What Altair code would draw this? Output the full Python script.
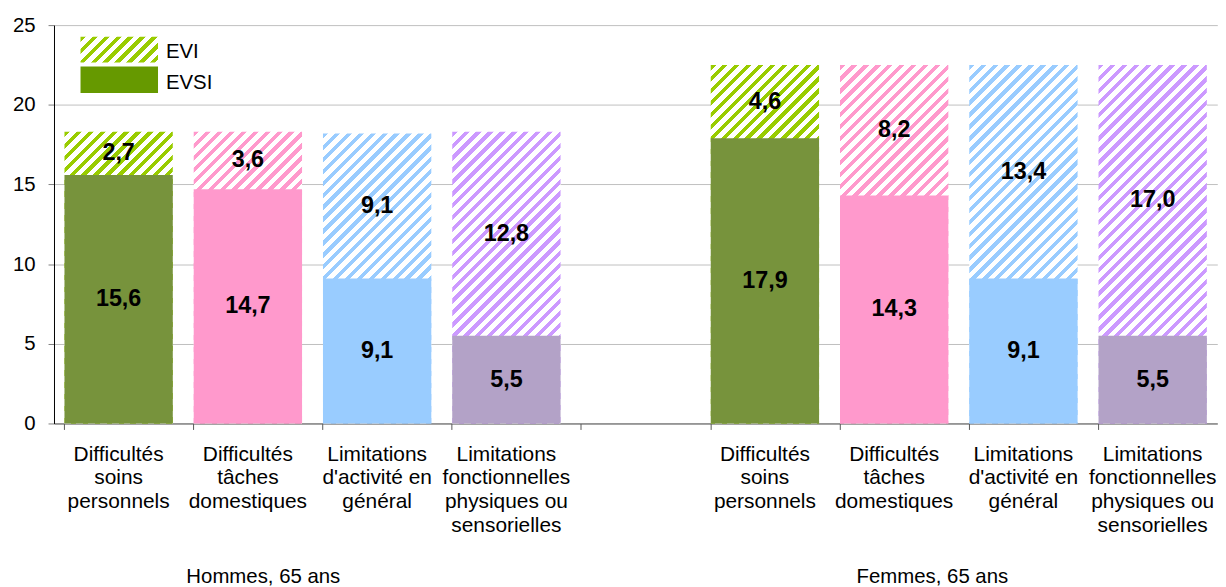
import math
import altair as alt
import pandas as pd

# ---------------- data ----------------
groups = ["Hommes, 65 ans", "Femmes, 65 ans"]
categories = [
    "Difficultés\nsoins\npersonnels",
    "Difficultés\ntâches\ndomestiques",
    "Limitations\nd'activité en\ngénéral",
    "Limitations\nfonctionnelles\nphysiques ou\nsensorielles",
]
evsi_hommes = [15.6, 14.7, 9.1, 5.5]
evi_hommes = [2.7, 3.6, 9.1, 12.8]
evsi_femmes = [17.9, 14.3, 9.1, 5.5]
evi_femmes = [4.6, 8.2, 13.4, 17.0]
legend_labels = ["EVI", "EVSI"]
y_ticks = [0, 5, 10, 15, 20, 25]

# ---------------- styles ----------------
solid_colors = ["#77933C", "#FF99CC", "#99CCFF", "#B3A2C7"]
hatch_colors = ["#99CC00", "#FF99CC", "#99CCFF", "#CC99FF"]
legend_colors = ["#99CC00", "#669900"]
FONT = "Liberation Sans"

W, H = 1171, 401
Y_MAX = 25
PAD_INNER = 0.162
GAP = "gap"

rows = []
slot_order = []
for gi, (g, evsi, evi) in enumerate(
    [(groups[0], evsi_hommes, evi_hommes), (groups[1], evsi_femmes, evi_femmes)]
):
    if gi == 1:
        slot_order.append(GAP)
    for ci, cat in enumerate(categories):
        slot = f"{gi}-{ci}"
        slot_order.append(slot)
        rows.append(
            dict(
                slot=slot,
                group=g,
                category=cat,
                ci=ci,
                evsi=evsi[ci],
                evi=evi[ci],
                total=round(evsi[ci] + evi[ci], 1),
                evsi_lbl=f"{evsi[ci]:.1f}".replace(".", ","),
                evi_lbl=f"{evi[ci]:.1f}".replace(".", ","),
            )
        )
df = pd.DataFrame(rows)
legend_df = pd.DataFrame({"label": legend_labels})

n_slots = len(slot_order)
step = W / n_slots
bar_w = step * (1 - PAD_INNER)


def hatch(color, w, h, period=12.0, duty=0.5):
    n = max(1, math.ceil((w + h) / period))
    span = n * period
    k = span / (w * w + h * h)
    stops = []
    for i in range(n):
        a = i / n
        b = (i + duty) / n
        c = (i + 1) / n
        stops += [
            {"offset": a, "color": color},
            {"offset": b, "color": color},
            {"offset": b, "color": "white"},
            {"offset": c, "color": "white"},
        ]
    return {"gradient": "linear", "x1": 0, "y1": 0, "x2": k * w, "y2": k * h, "stops": stops}


x_enc = alt.X(
    "slot:N",
    scale=alt.Scale(domain=slot_order, paddingInner=PAD_INNER, paddingOuter=PAD_INNER / 2),
    axis=alt.Axis(
        labels=False,
        title=None,
        bandPosition=0,
        tickSize=6,
        tickColor="#595959",
        domainColor="#595959",
        grid=False,
    ),
)


def y_enc(field):
    return alt.Y(
        f"{field}:Q",
        stack=None,
        scale=alt.Scale(domain=[0, Y_MAX], nice=False),
        axis=alt.Axis(
            values=y_ticks,
            title=None,
            grid=True,
            gridColor="#BFBFBF",
            domainColor="black",
            tickColor="#808080",
            tickSize=6,
            labelPadding=13,
            labelFontSize=20.5,
            labelFont=FONT,
            labelColor="black",
        ),
    )


base = alt.Chart(df)
layers = []

# hatched (EVI) bars: full height, later covered by the solid part
for r in rows:
    h_px = r["total"] / Y_MAX * H
    layers.append(
        base.transform_filter(alt.datum.slot == r["slot"])
        .mark_bar(fill=hatch(hatch_colors[r["ci"]], bar_w, h_px, duty=0.45), strokeWidth=0)
        .encode(x=x_enc, y=y_enc("total"))
    )

# solid (EVSI) bars
layers.append(
    base.mark_bar(strokeWidth=0).encode(
        x=x_enc,
        y=y_enc("evsi"),
        fill=alt.Fill(
            "slot:N",
            scale=alt.Scale(
                domain=[r["slot"] for r in rows],
                range=[solid_colors[r["ci"]] for r in rows],
            ),
            legend=None,
        ),
    )
)

# value labels
lbl_style = dict(font=FONT, fontSize=23.5, fontWeight="bold", color="black", baseline="middle")
layers.append(
    base.transform_calculate(mid="datum.evsi / 2")
    .mark_text(**lbl_style)
    .encode(x=x_enc, y=y_enc("mid"), text="evsi_lbl:N")
)
layers.append(
    base.transform_calculate(mid="datum.evsi + datum.evi / 2")
    .mark_text(**lbl_style)
    .encode(x=x_enc, y=y_enc("mid"), text="evi_lbl:N")
)

# category labels under the axis
layers.append(
    base.mark_text(
        font=FONT, fontSize=21, color="black", baseline="alphabetic",
        lineBreak="\n", lineHeight=24, align="center",
    ).encode(x=x_enc, y=alt.value(H + 37.4), text="category:N")
)

# group labels
group_x = [210.7, 884.2]
for g, gx in zip(groups, group_x):
    layers.append(
        base.transform_filter(alt.datum.group == g)
        .transform_aggregate(count="count()", groupby=["group"])
        .mark_text(font=FONT, fontSize=20.5, color="black", baseline="alphabetic", align="center")
        .encode(x=alt.value(gx), y=alt.value(H + 160.7), text="group:N")
    )

# legend
leg = alt.Chart(legend_df)
layers.append(
    leg.transform_filter(alt.datum.label == legend_labels[0])
    .mark_rect(fill=hatch(legend_colors[0], 78, 26, period=12.0, duty=0.45))
    .encode(x=alt.value(26.7), x2=alt.value(104.7), y=alt.value(11.7), y2=alt.value(37.7))
)
layers.append(
    leg.transform_filter(alt.datum.label == legend_labels[1])
    .mark_rect(fill=legend_colors[1])
    .encode(x=alt.value(26.7), x2=alt.value(104.7), y=alt.value(41.7), y2=alt.value(68.4))
)
for lab, ly in zip(legend_labels, [32.7, 64.0]):
    layers.append(
        leg.transform_filter(alt.datum.label == lab)
        .mark_text(font=FONT, fontSize=20.5, color="black", align="left", baseline="alphabetic")
        .encode(x=alt.value(112.7), y=alt.value(ly), text="label:N")
    )

chart = (
    alt.layer(*layers)
    .properties(
        width=W,
        height=H,
        autosize=alt.AutoSizeParams(type="none"),
        padding={"left": 46.3, "top": 15.3, "right": 0.7, "bottom": 163},
        background="white",
    )
    .configure_view(stroke=None)
)

chart.save("out.html", embed_options={"renderer": "svg", "actions": False})
